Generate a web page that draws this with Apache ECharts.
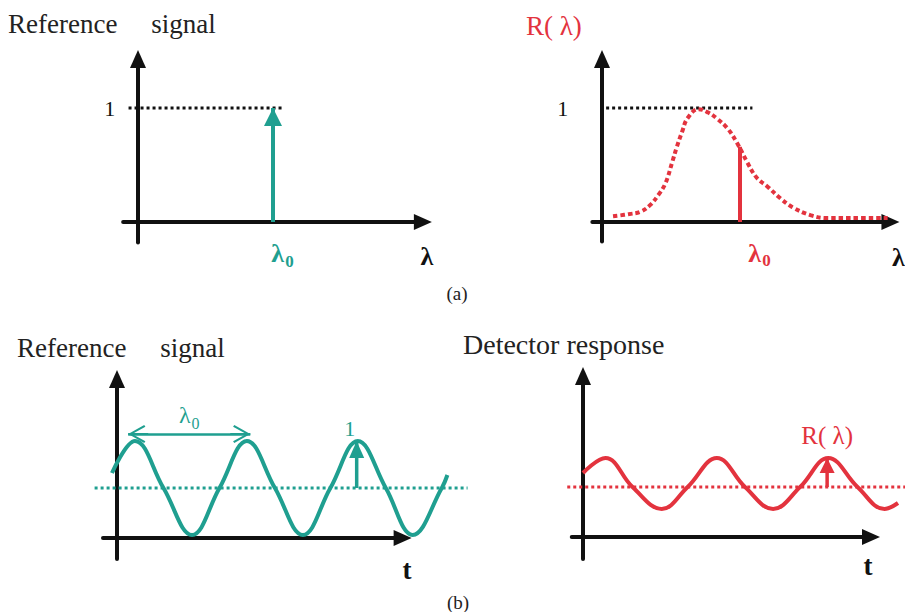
<!DOCTYPE html>
<html>
<head>
<meta charset="utf-8">
<script src="https://cdn.jsdelivr.net/npm/echarts@6/dist/echarts.min.js"></script>
<style>
  html, body { margin: 0; padding: 0; background: #fff; }
  #chart { width: 905px; height: 612px; }
</style>
</head>
<body>
<div id="chart"></div>
<script>
  // (a) left: reference signal, a single line at lambda0
  const lambda0 = 1
  const refLevel = 1
  const refGuide = [[-0.07, 1], [1.07, 1]]
  const refSpike = [[1, 0], [1, 1]]

  // (a) right: spectral response R(lambda)
  const respCurve = [
    [0.08, 0.05], [0.20, 0.07], [0.28, 0.09], [0.35, 0.15], [0.41, 0.24], [0.46, 0.34],
    [0.51, 0.53], [0.54, 0.65], [0.58, 0.79], [0.62, 0.91], [0.70, 0.99], [0.77, 0.96],
    [0.83, 0.91], [0.91, 0.82], [0.98, 0.69], [1.05, 0.53], [1.12, 0.39], [1.20, 0.31],
    [1.29, 0.21], [1.38, 0.13], [1.51, 0.06], [1.63, 0.035], [1.80, 0.035], [2.07, 0.035]
  ]
  const respGuide = [[0.03, 1], [1.09, 1]]
  const respAtLambda0 = [[1, 0], [1, 0.66]]

  // (b) left: reference signal in time
  const refWave = [
    [-0.045, 1.30], [0.16, 1.94], [0.415, 1.0], [0.67, 0.06], [0.915, 1.0], [1.16, 1.94],
    [1.41, 1.0], [1.66, 0.06], [1.905, 1.0], [2.15, 1.94], [2.40, 1.0], [2.64, 0.06],
    [2.90, 1.0], [2.95, 1.26]
  ]
  const refMid = [[-0.2, 1], [3.13, 1]]
  const refAmp = [[2.14, 1], [2.14, 1.94]]
  const refPeriod = [[0.10, 2.08], [1.19, 2.08]]

  // (b) right: detector response
  const detWave = [
    [0, 1.28], [0.20, 1.58], [0.44, 1.0], [0.70, 0.56], [0.93, 1.0], [1.19, 1.58],
    [1.44, 1.0], [1.69, 0.56], [1.93, 1.0], [2.18, 1.58], [2.44, 1.0], [2.68, 0.56],
    [2.80, 0.68]
  ]
  const detMid = [[-0.14, 1], [2.9, 1]]
  const detAmp = [[2.17, 1], [2.17, 1.58]]

  const FONT = "'Liberation Serif', 'Times New Roman', serif"
  const INK = "#111"
  const TEAL = "#1f9f90"
  const RED = "#e3333e"

  // origin pixel, pixels per unit, axis extents (x, y) and a wider data area (dx, dy)
  const panels = [
    { ox: 138, oy: 222, ux: 135, uy: 114, x: [-0.11, 2.11], y: [-0.18, 1.43], dx: [-0.3, 2.4], dy: [-0.3, 1.6] },
    { ox: 602, oy: 222, ux: 138, uy: 114, x: [-0.07, 2.09], y: [-0.17, 1.43], dx: [-0.3, 2.4], dy: [-0.3, 1.6] },
    { ox: 117, oy: 538, ux: 112, uy: 50, x: [-0.125, 2.55], y: [-0.42, 3.18], dx: [-0.4, 3.4], dy: [-0.6, 3.4] },
    { ox: 583, oy: 537, ux: 112.5, uy: 50, x: [-0.1, 2.56], y: [-0.44, 3.22], dx: [-0.4, 3.4], dy: [-0.6, 3.4] }
  ]

  const chev = "path://M9,0 L18,16 L16.3,17.2 L9,4 L1.7,17.2 L0,16 Z M7.9,0 L10.1,0 L10.1,20 L7.9,20 Z"

  const sub = (color, weight, size) => ({
    l: { fontFamily: FONT, fontSize: size, fontWeight: weight, color: color, lineHeight: 32 },
    s: { fontFamily: FONT, fontSize: Math.round(size * 0.65), fontWeight: weight, color: color, lineHeight: 32, verticalAlign: "bottom", padding: [0, 0, 0, 1] }
  })

  const axisLine = {
    onZero: true,
    symbol: ["none", "triangle"],
    symbolSize: [16, 18],
    lineStyle: { color: INK, width: 4 }
  }

  const xLabels = [
    { color: TEAL, pad: 19, margin: -5 },
    { color: RED, pad: 39, margin: -4 }
  ]
  const yMargins = [8, 24]

  const gridOf = (p, xr, yr) => ({
    left: p.ox + xr[0] * p.ux,
    top: p.oy - yr[1] * p.uy,
    width: (xr[1] - xr[0]) * p.ux,
    height: (yr[1] - yr[0]) * p.uy,
    outerBoundsMode: "none",
    containLabel: false
  })

  // series live in the wider hidden grids (4..7) so they can run past the drawn axes
  const line = (idx, data, color, width, type, extra) => Object.assign({
    type: "line",
    xAxisIndex: idx + 4,
    yAxisIndex: idx + 4,
    data: data,
    symbol: "none",
    clip: false,
    silent: true,
    lineStyle: { color: color, width: width, type: type },
    itemStyle: { color: color }
  }, extra || {})

  const arrowTip = (pt, color, size, label) => ({
    value: pt,
    symbol: "triangle",
    symbolSize: size,
    symbolOffset: [0, size[1] / 2],
    itemStyle: { color: color },
    label: label
  })

  const txt = (text, x, y, size, color, align, weight) => ({
    type: "text",
    x: x,
    y: y,
    silent: true,
    style: {
      text: text, fill: color, fontSize: size, fontFamily: FONT, fontWeight: weight || "normal",
      align: align, textAlign: align, verticalAlign: "middle", textVerticalAlign: "middle"
    }
  })

  const chart = echarts.init(document.getElementById("chart"), null, { renderer: "svg" })

  chart.setOption({
    animation: false,
    backgroundColor: "#fff",
    grid: panels.map(p => gridOf(p, p.x, p.y)).concat(panels.map(p => gridOf(p, p.dx, p.dy))),
    xAxis: panels.map((p, i) => ({
      type: "value",
      gridIndex: i,
      min: p.x[0],
      max: p.x[1],
      axisLine: axisLine,
      axisTick: { show: false },
      splitLine: { show: false },
      axisLabel: i < 2 ? {
        show: true,
        customValues: [lambda0],
        formatter: () => "{l|λ}{s|0}",
        margin: xLabels[i].margin,
        padding: [0, 0, 0, xLabels[i].pad],
        rich: sub(xLabels[i].color, "bold", 26)
      } : { show: false }
    })).concat(panels.map((p, i) => ({
      type: "value", gridIndex: i + 4, min: p.dx[0], max: p.dx[1], show: false
    }))),
    yAxis: panels.map((p, i) => ({
      type: "value",
      gridIndex: i,
      min: p.y[0],
      max: p.y[1],
      axisLine: axisLine,
      axisTick: { show: false },
      splitLine: { show: false },
      axisLabel: i < 2 ? {
        show: true,
        customValues: [refLevel],
        formatter: () => "1",
        margin: yMargins[i],
        fontFamily: FONT,
        fontSize: 22,
        color: INK
      } : { show: false }
    })).concat(panels.map((p, i) => ({
      type: "value", gridIndex: i + 4, min: p.dy[0], max: p.dy[1], show: false
    }))),
    series: [
      line(0, refGuide, INK, 3, [3, 3]),
      line(0, [refSpike[0], arrowTip(refSpike[1], TEAL, [18, 18])], TEAL, 4, "solid"),

      line(1, respGuide, INK, 3, [3, 3]),
      line(1, respCurve, RED, 4, [4.5, 3], { smooth: 0.4 }),
      line(1, respAtLambda0, RED, 4, "solid"),

      line(2, refMid, TEAL, 3, [3, 3]),
      line(2, refWave, TEAL, 4, "solid", {
        smooth: 0.4,
        markLine: {
          silent: true,
          symbol: [chev, chev],
          symbolSize: [18, 20],
          symbolOffset: [[0, 10], [0, 10]],
          lineStyle: { color: TEAL, width: 2.5, type: "solid" },
          label: {
            show: true,
            position: "middle",
            distance: 3,
            formatter: "{l|λ}{s|0}",
            rich: sub(TEAL, "normal", 24)
          },
          data: [[{ coord: refPeriod[0] }, { coord: refPeriod[1] }]]
        }
      }),
      line(2, [refAmp[0], arrowTip(refAmp[1], TEAL, [15, 17], {
        show: true, position: "top", distance: 2, offset: [-7, 0], formatter: "1",
        fontFamily: FONT, fontSize: 22, color: TEAL
      })], TEAL, 3.5, "solid"),

      line(3, detMid, RED, 3, [3, 3]),
      line(3, detWave, RED, 4, "solid", { smooth: 0.4 }),
      line(3, [detAmp[0], arrowTip(detAmp[1], RED, [15, 15], {
        show: true, position: "top", distance: 10, formatter: "R( λ)",
        fontFamily: FONT, fontSize: 25, color: RED
      })], RED, 3.5, "solid")
    ],
    graphic: [
      txt("Reference\u00a0\u00a0\u00a0\u00a0\u00a0signal", 8, 24, 27, "#222", "left"),
      txt("R( λ)", 526, 26, 27, RED, "left"),
      txt("λ", 427, 256, 26, INK, "center", "bold"),
      txt("λ", 892, 257, 26, INK, "left", "bold"),
      txt("(a)", 457, 293, 19, "#222", "center"),
      txt("Reference\u00a0\u00a0\u00a0\u00a0\u00a0signal", 17, 348, 27, "#222", "left"),
      txt("Detector response", 463, 344, 28, "#222", "left"),
      txt("t", 407, 570, 27, INK, "center", "bold"),
      txt("t", 868, 566, 27, INK, "center", "bold"),
      txt("(b)", 458, 602, 19, "#222", "center")
    ]
  })

  window.addEventListener("resize", () => {
    chart && chart.resize()
  })
</script>
</body>
</html>
